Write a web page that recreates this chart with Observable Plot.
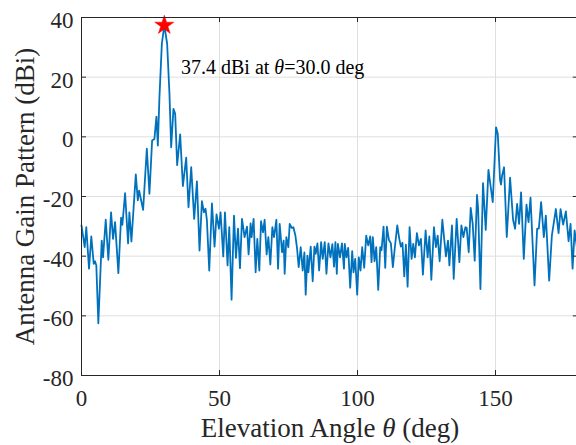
<!DOCTYPE html>
<html><head><meta charset="utf-8">
<script src="https://cdn.jsdelivr.net/npm/d3@7"></script>
<script src="https://cdn.jsdelivr.net/npm/@observablehq/plot@0.6"></script>
<style>body{margin:0;background:#fff;overflow:hidden} svg text{font-family:'Liberation Serif','Times New Roman',serif}</style>
</head><body><div id="chart"></div>
<script>
const theta = [0,1.16,1.74,2.72,3.56,4.43,4.9,5.37,6.1,7.33,7.8,8.78,9.73,10.71,11.43,12.16,13.36,14.34,14.81,15.79,16.88,17.35,18.08,19.67,20.4,20.87,22.32,23.67,24.61,25.59,26.42,27.15,27.66,28.24,29.11,30.0,31.03,31.87,32.49,33.32,33.94,34.66,35.75,36.73,37.93,38.77,39.75,40.83,41.82,42.76,43.63,44.36,44.94,45.44,46.28,47.26,48.2,48.93,49.8,50.38,51.36,51.98,52.92,53.54,54.37,55.25,55.97,56.7,57.42,58.15,59.09,59.96,60.54,61.27,61.63,62.36,63.09,63.7,64.43,65.05,65.77,66.35,67.08,67.7,68.42,69.15,69.76,70.6,71.22,71.8,72.67,73.25,73.61,74.23,74.95,75.43,76.15,76.77,77.5,78.11,78.69,79.42,80.15,80.76,81.23,81.85,82.21,83.05,83.77,84.39,84.86,85.48,86.1,86.82,87.4,88.13,88.75,89.47,90.2,90.9,91.5,92.0,92.5,92.9,93.66,94.37,95.1,95.39,96.0,96.62,97.35,98.08,98.55,99.17,99.89,100.47,101.09,101.71,102.43,103.16,103.88,104.61,105.08,105.55,106.17,106.79,107.51,108.24,108.71,109.44,110.05,110.64,111.36,112.1,112.81,113.54,114.41,115.14,115.72,116.3,116.95,117.53,118.15,118.87,119.6,120.2,120.8,121.52,122.25,122.98,123.7,124.68,125.41,126.03,126.75,127.7,128.42,129.04,129.76,130.74,131.47,132.05,132.78,133.29,134.23,134.85,135.93,136.91,137.64,138.37,139.09,139.56,140.29,141.02,141.74,142.47,143.3,143.7,144.54,145.48,146.46,147.44,148.28,149.0,150.2,150.82,151.65,152.0,152.38,153.1,154.08,155.28,156.37,157.1,157.82,158.55,159.27,160.25,161.23,161.96,162.69,164.14,165.08,165.7,166.53,167.51,168.24,169.44,170.42,171.87,172.85,173.57,174.52,175.5,176.48,177.2,177.93,178.66,179.5,180];
const gain = [-29.7,-37,-30.3,-44.2,-33.4,-42.6,-41.7,-43.1,-62.5,-34.8,-40.4,-27.8,-41.2,-25.3,-34.2,-28.6,-45.7,-27.1,-29.5,-18.9,-35.7,-25.3,-35.1,-12.6,-21.3,-18,-24.5,-4.0,-19.1,-1.2,-0.7,6.8,-2.9,13.3,31.2,37.4,31.2,14.4,-3.5,9.4,7.7,-9.5,0.8,-16.5,-7,-23.6,-10.2,-27.5,-14.9,-38.1,-21.6,-25.3,-24.1,-28,-44.8,-22.3,-36.8,-26,-30.8,-25.3,-40.1,-25.3,-43.1,-30.3,-54.6,-26.4,-40.6,-30.8,-44,-27.5,-33.6,-30.1,-39.4,-29,-33.6,-27.5,-45.4,-34.2,-44.8,-28.3,-32,-27.8,-39.4,-33.6,-42.8,-30.3,-33.6,-27.8,-44.2,-29.2,-38.7,-34.8,-45.9,-33.6,-37,-29.2,-30.5,-30.3,-33.1,-37.5,-43.7,-37,-44.8,-38.7,-52.9,-39.8,-45.4,-36.8,-48.4,-36.8,-39.2,-35.7,-44.8,-35.3,-40.9,-35.3,-45.9,-35.7,-40.4,-36,-43.5,-35.3,-45.9,-35.9,-40.4,-35.7,-44.2,-35.9,-40.4,-37.2,-50.6,-38.3,-45.4,-40.9,-52.9,-40.4,-44.8,-37,-43.9,-33.1,-36.4,-33.4,-42,-33.6,-41.7,-37,-51.3,-37,-38,-30.1,-43.9,-30.1,-34.5,-35.7,-43.7,-37,-29.7,-34.2,-36.8,-35.5,-46.8,-36.1,-50.2,-30.3,-40.9,-35.9,-40.4,-32.3,-36.4,-34.2,-46.2,-31.4,-40.4,-33.4,-47.9,-30.3,-37,-33.1,-41.7,-27.8,-34.8,-40.1,-34.8,-43.1,-29.7,-47.6,-27.5,-42,-29.7,-33.6,-30.3,-30.5,-38.7,-23.8,-29.2,-41.5,-19.5,-24,-51,-15.5,-31.2,-11.1,-16.9,-21.9,3.2,1,-14.4,-16,-13,-10.2,-33.6,-13.7,-27.8,-30.8,-22.5,-29.2,-18.6,-40.9,-22.7,-28.6,-20.4,-49.8,-30.8,-30.8,-21.9,-33.6,-26.4,-48.2,-33.1,-24.2,-32.3,-24.2,-29.4,-25,-35,-29.2,-44.2,-31.4,-37,-38];
const xTicks = [0, 50, 100, 150];
const yTicks = [-80, -60, -40, -20, 0, 20, 40];
const peakTheta = 30.0;
const peakGain = 37.4;
const annotation = "37.4 dBi at θ=30.0 deg";
const xLabel = "Elevation Angle θ (deg)";
const yLabel = "Antenna Gain Pattern (dBi)";

const data = theta.map((t, i) => ({theta: t, gain: gain[i]}));
const peak = [{theta: peakTheta, gain: peakGain, label: annotation}];
const serif = "'Liberation Serif', 'Times New Roman', serif";
const axisColor = "#262626";
const gridColor = "#dfdfdf";
const W = 576, H = 445, mL = 81, mR = -1.8, mT = 17, mB = 70;
const fh = H - mT - mB, fw = W - mL - mR;

const chart = Plot.plot({
  width: W, height: H,
  marginLeft: mL, marginRight: mR, marginTop: mT, marginBottom: mB,
  style: {fontFamily: serif, fontSize: "23px", color: axisColor, background: "#fff", overflow: "visible"},
  x: {domain: [0, 180]},
  y: {domain: [-80, 40]},
  marks: [
    Plot.gridX(xTicks, {stroke: gridColor, strokeOpacity: 1}),
    Plot.gridY(yTicks, {stroke: gridColor, strokeOpacity: 1}),
    Plot.line(data, {x: "theta", y: "gain", stroke: "#0072BD", strokeWidth: 1.8}),
    Plot.dot(peak, {x: "theta", y: "gain", symbol: "star", r: 6, fill: "#ff0000", stroke: "#ff0000", strokeWidth: 0.5}),
    Plot.text(peak, {x: "theta", y: "gain", text: "label", textAnchor: "start", lineAnchor: "middle", dx: 16.7, dy: 42.4, fontSize: 20, fontFamily: serif, fill: "#000"}),
    Plot.tickX(xTicks, {x: d => d, insetTop: fh - 5, stroke: axisColor}),
    Plot.tickX(xTicks, {x: d => d, insetBottom: fh - 5, stroke: axisColor}),
    Plot.tickY(yTicks, {y: d => d, insetRight: fw - 5, stroke: axisColor}),
    Plot.tickY(yTicks, {y: d => d, insetLeft: fw - 5, stroke: axisColor}),
    Plot.axisX(xTicks, {tickSize: 0, tickPadding: 14, tickFormat: d => String(d), label: null, fill: axisColor, fontFamily: serif, fontSize: 23}),
    Plot.axisY(yTicks, {tickSize: 0, tickPadding: 8, dy: 3, tickFormat: d => String(d), label: null, fill: axisColor, fontFamily: serif, fontSize: 23}),
    Plot.text([xLabel], {frameAnchor: "bottom", lineAnchor: "middle", dy: 53, fontSize: 27, fontFamily: serif, fill: axisColor}),
    Plot.text([yLabel], {frameAnchor: "left", rotate: -90, textAnchor: "middle", lineAnchor: "middle", dx: -56.6, fontSize: 27, fontFamily: serif, fill: axisColor}),
    Plot.frame({stroke: axisColor, strokeWidth: 1})
  ]
});

// italicize θ in texts
chart.querySelectorAll("text").forEach(t => {
  const s = t.textContent;
  if (s.includes("θ") && t.querySelectorAll("tspan").length <= 1) {
    const parts = s.split("θ");
    const target = t.querySelector("tspan") || t;
    target.textContent = "";
    const ns = "http://www.w3.org/2000/svg";
    const a = document.createElementNS(ns, "tspan"); a.textContent = parts[0];
    const b = document.createElementNS(ns, "tspan"); b.textContent = "θ"; b.setAttribute("font-style", "italic");
    const c = document.createElementNS(ns, "tspan"); c.textContent = parts[1];
    target.appendChild(a); target.appendChild(b); target.appendChild(c);
  }
});
document.getElementById("chart").appendChild(chart);
</script>
</body></html>
